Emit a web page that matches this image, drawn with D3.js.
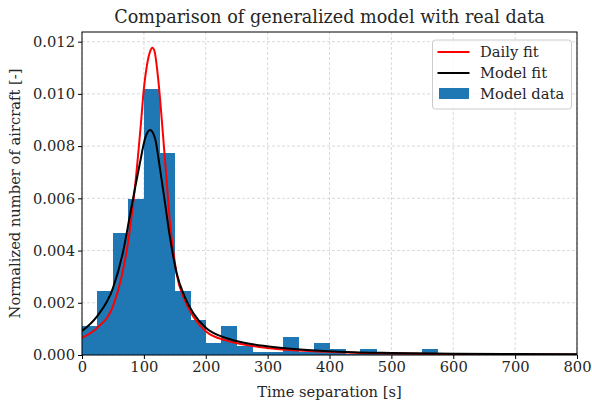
<!DOCTYPE html>
<html>
<head>
<meta charset="utf-8">
<script src="https://cdn.jsdelivr.net/npm/d3@7"></script>
<style>
  body { margin: 0; background: #fff; }
  text { font-family: "DejaVu Serif", serif; fill: #262626; }
</style>
</head>
<body>
<svg id="chart" width="592" height="403"></svg>
<script>
// Histogram bins (start of 25 s bin) and normalized counts
const binStarts = [0, 25, 50, 75, 100, 125, 150, 175, 200, 225, 250, 275, 300, 325, 350, 375, 400, 425, 450, 475, 500, 525, 550, 575];
const binValues = [0.00111, 0.00245, 0.00469, 0.00598, 0.01019, 0.00774, 0.00245, 0.00134, 0.00047, 0.00111, 0.00035, 0.00013, 0.00013, 0.00068, 0.00010, 0.00045, 0.00022, 0.00005, 0.00023, 0.00005, 0.00005, 0.00003, 0.00023, 0.00002];
const binWidth = 25;

// Daily fit curve
const dailyX = [0, 25, 50, 65, 75, 85, 95, 100, 105, 110, 113.6, 117, 123, 131, 137, 142, 148, 153, 166, 180, 201, 234, 266, 320, 384, 449, 500, 600, 700, 800];
const dailyY = [0.00066, 0.00105, 0.00186, 0.0031, 0.0044, 0.0063, 0.0088, 0.0102, 0.0111, 0.01162, 0.01177, 0.01165, 0.0106, 0.0084, 0.0066, 0.0051, 0.0039, 0.0031, 0.00211, 0.00147, 0.00089, 0.00055, 0.00038, 0.00022, 0.00013, 0.00008, 0.00006, 0.00004, 0.00003, 0.00002];

// Model fit curve
const modelX = [0, 24, 50, 67, 77.5, 85, 94, 102, 110, 118, 126, 134, 142, 153, 166, 180, 201, 234, 266, 320, 384, 449, 500, 600, 700, 800];
const modelY = [0.00092, 0.00147, 0.00256, 0.00402, 0.00535, 0.0063, 0.0074, 0.00830, 0.00862, 0.0083, 0.00715, 0.00585, 0.00453, 0.00313, 0.00223, 0.0016, 0.00102, 0.00064, 0.00045, 0.00028, 0.000165, 0.0001, 0.00008, 0.00005, 0.000035, 0.000025];

const xTicks = [0, 100, 200, 300, 400, 500, 600, 700, 800];
const yTicks = [0, 0.002, 0.004, 0.006, 0.008, 0.010, 0.012];

const title = "Comparison of generalized model with real data";
const xLabel = "Time separation [s]";
const yLabel = "Normalized number of aircraft [-]";
const legendLabels = ["Daily fit", "Model fit", "Model data"];

const svg = d3.select("#chart");
const m = { left: 82, right: 577, top: 32, bottom: 355 };
const fs = 14.7;

const x = d3.scaleLinear().domain([0, 800]).range([m.left, m.right]);
const y = d3.scaleLinear().domain([0, 0.01237]).range([m.bottom, m.top]);

// grid
const grid = svg.append("g");
grid.selectAll("line.vx").data(xTicks).join("line")
  .attr("x1", d => x(d)).attr("x2", d => x(d))
  .attr("y1", m.top).attr("y2", m.bottom)
  .attr("stroke", "#d0d0d0").attr("stroke-width", 0.8).attr("stroke-dasharray", "3,2");
grid.selectAll("line.hy").data(yTicks).join("line")
  .attr("y1", d => y(d)).attr("y2", d => y(d))
  .attr("x1", m.left).attr("x2", m.right)
  .attr("stroke", "#d0d0d0").attr("stroke-width", 0.8).attr("stroke-dasharray", "3,2");

// clip
svg.append("clipPath").attr("id", "clip").append("rect")
  .attr("x", m.left).attr("y", m.top).attr("width", m.right - m.left).attr("height", m.bottom - m.top);

const plot = svg.append("g").attr("clip-path", "url(#clip)");

plot.append("g").attr("shape-rendering", "crispEdges")
  .selectAll("rect.bar").data(binStarts).join("rect")
  .attr("x", d => x(d))
  .attr("width", d => x(d + binWidth) - x(d) + 0.6)
  .attr("y", (d, i) => y(binValues[i]))
  .attr("height", (d, i) => y(0) - y(binValues[i]))
  .attr("fill", "#1f77b4");

const line = d3.line().curve(d3.curveMonotoneX);
plot.append("path")
  .attr("d", line(dailyX.map((d, i) => [x(d), y(dailyY[i])])))
  .attr("fill", "none").attr("stroke", "#ff0000").attr("stroke-width", 2);
plot.append("path")
  .attr("d", line(modelX.map((d, i) => [x(d), y(modelY[i])])))
  .attr("fill", "none").attr("stroke", "#000000").attr("stroke-width", 2);

// axes
const xAxis = d3.axisBottom(x).tickValues(xTicks).tickSize(4).tickPadding(3).tickFormat(d3.format("d"));
const yAxis = d3.axisLeft(y).tickValues(yTicks).tickSize(4).tickPadding(3).tickFormat(d3.format(".3f"));
const gx = svg.append("g").attr("transform", `translate(0,${m.bottom})`).call(xAxis);
const gy = svg.append("g").attr("transform", `translate(${m.left},0)`).call(yAxis);
[gx, gy].forEach(g => {
  g.select(".domain").remove();
  g.selectAll("line").attr("stroke", "#000").attr("stroke-width", 1);
  g.selectAll("text").attr("font-family", "DejaVu Serif").attr("font-size", fs).attr("fill", "#262626");
});

// frame
svg.append("rect").attr("x", m.left).attr("y", m.top)
  .attr("width", m.right - m.left).attr("height", m.bottom - m.top)
  .attr("fill", "none").attr("stroke", "#000").attr("stroke-width", 1);

// labels
svg.append("text").attr("x", (m.left + m.right) / 2).attr("y", 23)
  .attr("text-anchor", "middle").attr("font-size", 17.6).text(title);
svg.append("text").attr("x", (m.left + m.right) / 2).attr("y", 397)
  .attr("text-anchor", "middle").attr("font-size", fs).text(xLabel);
svg.append("text").attr("transform", `translate(20,${(m.top + m.bottom) / 2}) rotate(-90)`)
  .attr("text-anchor", "middle").attr("font-size", fs).text(yLabel);

// legend
const lg = svg.append("g");
lg.append("rect").attr("x", 432.5).attr("y", 40).attr("width", 139).attr("height", 69)
  .attr("rx", 3).attr("fill", "#fff").attr("fill-opacity", 0.8)
  .attr("stroke", "#cccccc").attr("stroke-width", 1);
const colors = ["#ff0000", "#000000", "#1f77b4"];
legendLabels.forEach((lab, i) => {
  const cy = 52 + i * 21;
  if (i < 2) {
    lg.append("line").attr("x1", 437.5).attr("x2", 469.5).attr("y1", cy).attr("y2", cy)
      .attr("stroke", colors[i]).attr("stroke-width", 2);
  } else {
    lg.append("rect").attr("x", 439).attr("y", cy - 6).attr("width", 30).attr("height", 11)
      .attr("fill", colors[i]);
  }
  lg.append("text").attr("x", 480).attr("y", cy + 5).attr("font-size", fs).text(lab);
});
</script>
</body>
</html>
